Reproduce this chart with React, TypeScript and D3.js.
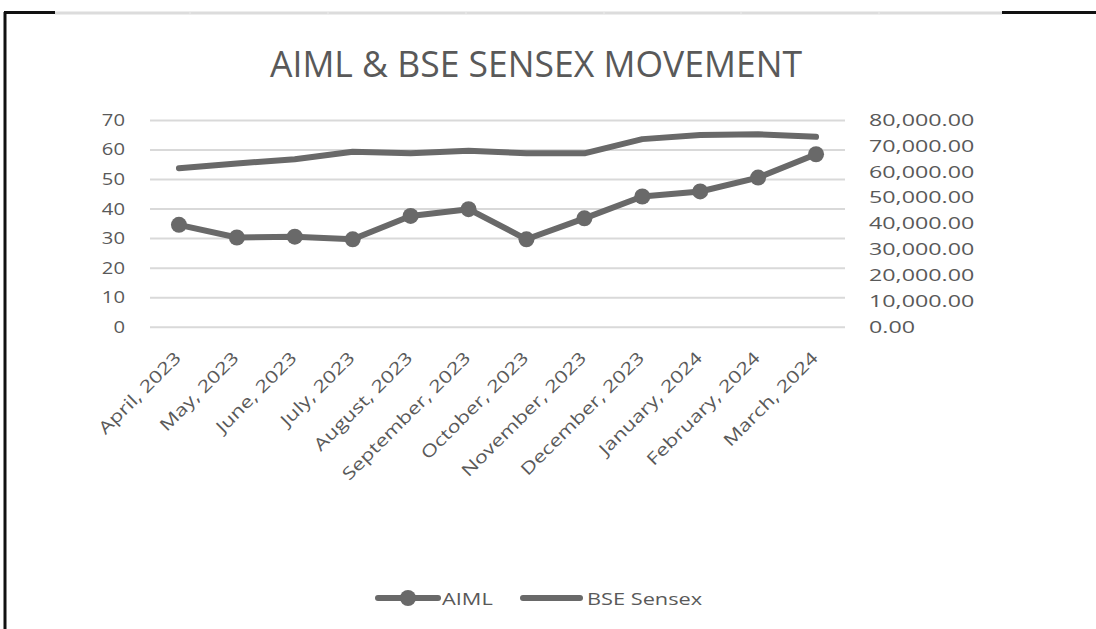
// @ts-nocheck
import React from 'react'
import * as d3 from 'd3'

const months = [
  'April, 2023', 'May, 2023', 'June, 2023', 'July, 2023', 'August, 2023', 'September, 2023',
  'October, 2023', 'November, 2023', 'December, 2023', 'January, 2024', 'February, 2024', 'March, 2024',
]
const aiml = [34.5, 30.2, 30.5, 29.6, 37.5, 39.8, 29.6, 36.7, 44.1, 45.8, 50.5, 58.4]
const sensex = [61300, 63200, 64800, 67700, 67100, 68100, 67100, 67100, 72600, 74200, 74500, 73500]
const leftTicks = [0, 10, 20, 30, 40, 50, 60, 70]
const rightTicks = [0, 10000, 20000, 30000, 40000, 50000, 60000, 70000, 80000]

const W = 1096
const H = 629
const grey = '#696969'
const textCol = '#595959'
const font = '"Open Sans", "Noto Sans", sans-serif'
const stretch = 1.28 // the screenshot's text is wider than Open Sans

const App = () => {
  const svgRef = React.useRef(null)

  React.useEffect(() => {
    const svg = d3.select(svgRef.current)
    svg.selectAll('*').remove()

    const x = d3.scaleBand().domain(months).range([150, 845])
    const yL = d3.scaleLinear().domain([0, 70]).range([326.7, 120])
    const yR = d3.scaleLinear().domain([0, 80000]).range([326.7, 120])
    const cx = (m) => x(m) + x.bandwidth() / 2

    // frame (cropped screenshot border)
    svg.append('line').attr('x1', 5).attr('x2', 5).attr('y1', 12).attr('y2', H)
      .attr('stroke', '#111').attr('stroke-width', 3)
    svg.append('line').attr('x1', 4).attr('x2', 55).attr('y1', 12.5).attr('y2', 12.5)
      .attr('stroke', '#111').attr('stroke-width', 3)
    svg.append('line').attr('x1', 1002).attr('x2', W).attr('y1', 12.5).attr('y2', 12.5)
      .attr('stroke', '#111').attr('stroke-width', 3)
    svg.append('line').attr('x1', 55).attr('x2', 1002).attr('y1', 13).attr('y2', 13)
      .attr('stroke', '#dcdcdc').attr('stroke-width', 3)
    ;[190, 328, 466, 604, 741, 879].forEach((tx) => {
      svg.append('line').attr('x1', tx).attr('x2', tx).attr('y1', 11).attr('y2', 15)
        .attr('stroke', '#ececec').attr('stroke-width', 1)
    })

    // title
    svg.append('text').attr('x', 536).attr('y', 77).attr('text-anchor', 'middle')
      .attr('font-family', font).attr('font-size', 37).attr('fill', textCol)
      .attr('textLength', 532).attr('lengthAdjust', 'spacingAndGlyphs')
      .text('AIML & BSE SENSEX MOVEMENT')

    // gridlines + left axis
    const left = svg.append('g').attr('transform', 'translate(150,0)')
      .call(d3.axisLeft(yL).tickValues(leftTicks).tickSize(-695))
    left.select('.domain').remove()
    left.selectAll('line').attr('stroke', '#d9d9d9').attr('stroke-width', 2)
    left.selectAll('text').attr('x', 0).attr('transform', `translate(-25,0) scale(${stretch * 0.93},1)`)
      .attr('font-family', font).attr('font-size', 17).attr('fill', textCol)

    // right axis
    const right = svg.append('g').attr('transform', 'translate(845,0)')
      .call(d3.axisRight(yR).tickValues(rightTicks).tickSize(0)
        .tickFormat((v) => d3.format(',.2f')(v)))
    right.select('.domain').remove()
    right.selectAll('text').attr('x', 0).attr('transform', `translate(24,0) scale(${stretch * 1.07},1)`)
      .attr('font-family', font).attr('font-size', 17).attr('fill', textCol)

    // x labels
    const xg = svg.append('g')
    months.forEach((m) => {
      xg.append('text')
        .attr('transform', `translate(${cx(m) + 3},${359}) rotate(-45) scale(${stretch},1)`)
        .attr('text-anchor', 'end')
        .attr('font-family', font).attr('font-size', 17).attr('fill', textCol)
        .text(m)
    })

    // lines
    const lineL = d3.line().x((d, i) => cx(months[i])).y((d) => yL(d))
    const lineR = d3.line().x((d, i) => cx(months[i])).y((d) => yR(d))
    svg.append('path').attr('d', lineR(sensex)).attr('fill', 'none')
      .attr('stroke', grey).attr('stroke-width', 6).attr('stroke-linejoin', 'round').attr('stroke-linecap', 'round')
    svg.append('path').attr('d', lineL(aiml)).attr('fill', 'none')
      .attr('stroke', grey).attr('stroke-width', 6).attr('stroke-linejoin', 'round')
    svg.selectAll('.pt').data(aiml).enter().append('circle')
      .attr('cx', (d, i) => cx(months[i])).attr('cy', (d) => yL(d)).attr('r', 8)
      .attr('fill', grey)

    // legend
    const lg = svg.append('g')
    lg.append('line').attr('x1', 378).attr('x2', 438).attr('y1', 598).attr('y2', 598)
      .attr('stroke', grey).attr('stroke-width', 6).attr('stroke-linecap', 'round')
    lg.append('circle').attr('cx', 408).attr('cy', 598).attr('r', 8).attr('fill', grey)
    lg.append('text').attr('transform', `translate(442,605) scale(${stretch},1)`).attr('font-family', font)
      .attr('font-size', 17).attr('fill', textCol).text('AIML')
    lg.append('line').attr('x1', 523).attr('x2', 580).attr('y1', 598).attr('y2', 598)
      .attr('stroke', grey).attr('stroke-width', 6).attr('stroke-linecap', 'round')
    lg.append('text').attr('transform', `translate(587,605) scale(${stretch},1)`).attr('font-family', font)
      .attr('font-size', 17).attr('fill', textCol).text('BSE Sensex')
  }, [])

  return (
    <svg ref={svgRef} width={W} height={H}
      style={{ position: 'absolute', left: 0, top: 0, background: '#fff' }} />
  )
}

export default App
